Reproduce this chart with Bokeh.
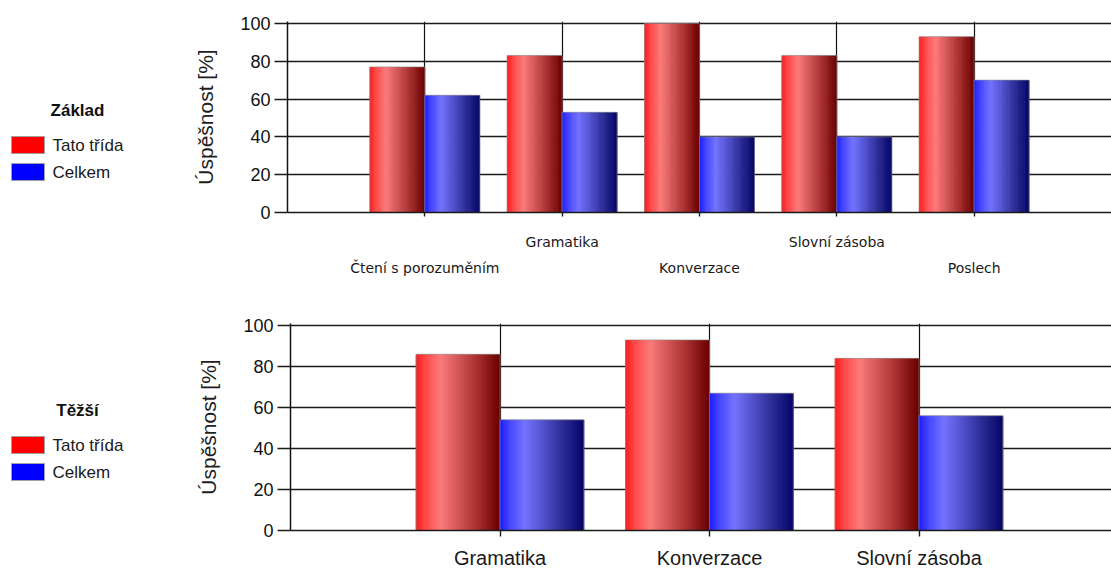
import numpy as np
from bokeh.plotting import figure
from bokeh.models import Range1d, FixedTicker, LinearAxis, ColumnDataSource
from bokeh.layouts import column, row
from bokeh.core.properties import value
from bokeh.embed import file_html
from bokeh.resources import INLINE

# ---------------- data ----------------
series_names = ["Tato třída", "Celkem"]

zaklad_title = "Základ"
zaklad_cats = ["Čtení s porozuměním", "Gramatika", "Konverzace", "Slovní zásoba", "Poslech"]
zaklad_trida = [77, 83, 100, 83, 93]
zaklad_celkem = [62, 53, 40, 40, 70]

tezsi_title = "Těžší"
tezsi_cats = ["Gramatika", "Konverzace", "Slovní zásoba"]
tezsi_trida = [86, 93, 84]
tezsi_celkem = [54, 67, 56]

y_ticks = [0, 20, 40, 60, 80, 100]
y_label = "Úspěšnost [%]"

# ---------------- styles ----------------
REG = "Liberation Sans"
SMALL = "DejaVu Sans"

RED_STOPS = [(0.0, (255, 25, 25)), (0.12, (255, 75, 75)), (0.3, (252, 122, 122)),
             (0.5, (212, 88, 88)), (0.75, (165, 45, 45)), (1.0, (105, 0, 0))]
BLUE_STOPS = [(0.0, (25, 25, 255)), (0.12, (70, 70, 255)), (0.3, (115, 115, 255)),
              (0.5, (85, 85, 210)), (0.75, (45, 45, 150)), (1.0, (5, 5, 105))]


def grad(stops, n):
    cols = []
    for k in range(n):
        t = (k + 0.5) / n
        c = stops[-1][1]
        for (t0, c0), (t1, c1) in zip(stops[:-1], stops[1:]):
            if t0 <= t <= t1:
                f = (t - t0) / (t1 - t0)
                c = tuple(int(round(a + (b - a) * f)) for a, b in zip(c0, c1))
                break
        cols.append("#%02x%02x%02x" % c)
    return cols


def chart(cats, v1, v2, width, height, left, top, bottom, xmax, staggered,
          cat_font, cat_size, cat_standoff, cat_tick, second_standoff=10,
          label_standoff=20):
    p = figure(width=width, height=height, x_range=Range1d(0, xmax), y_range=Range1d(0, 101),
               output_backend="svg", toolbar_location=None,
               min_border_left=left, min_border_top=top, min_border_bottom=bottom,
               min_border_right=0)
    p.outline_line_color = None
    pos = list(range(1, len(cats) + 1))

    # grid
    p.xgrid.ticker = FixedTicker(ticks=pos)
    p.xgrid.grid_line_color = "#111111"
    p.xgrid.grid_line_width = 1.2
    p.ygrid.ticker = FixedTicker(ticks=y_ticks)
    p.ygrid.grid_line_color = "#1a1a1a"
    p.ygrid.grid_line_width = 1.6

    # bars with horizontal gradient
    BW = 0.4
    N = 48
    for vals, stops, off in ((v1, RED_STOPS, -BW / 2), (v2, BLUE_STOPS, BW / 2)):
        cols = grad(stops, N)
        xs, tops, cs = [], [], []
        for c, v in zip(pos, vals):
            for k in range(N):
                xs.append(c + off - BW / 2 + (k + 0.5) * BW / N)
                tops.append(v)
                cs.append(cols[k])
        src = ColumnDataSource(dict(x=xs, top=tops, color=cs))
        p.vbar(x="x", top="top", bottom=0, width=BW / N * 1.6, fill_color="color",
               line_color=None, source=src)
        p.vbar(x=[c + off for c in pos], top=vals, bottom=0, width=BW, fill_color=None,
               line_color="#8a8a8a", line_width=1, line_alpha=0.6)

    # y axis
    ya = p.yaxis[0]
    ya.ticker = FixedTicker(ticks=y_ticks)
    ya.axis_label = y_label
    ya.axis_label_text_font = REG
    ya.axis_label_text_font_size = "21px"
    ya.axis_label_text_font_style = "normal"
    ya.axis_label_text_color = "#1e1e1e"
    ya.axis_label_standoff = label_standoff
    ya.major_label_text_font = REG
    ya.major_label_text_font_size = "18px"
    ya.major_label_text_color = "#111111"
    ya.major_label_standoff = 4
    ya.major_tick_out = 13
    ya.major_tick_in = 0
    ya.minor_tick_out = 0
    ya.minor_tick_in = 0
    ya.major_tick_line_color = "#1a1a1a"
    ya.major_tick_line_width = 1.6
    ya.axis_line_color = "#111111"
    ya.axis_line_width = 1.5

    # x axis
    xa = p.xaxis[0]
    xa.ticker = FixedTicker(ticks=pos)
    if staggered:
        xa.major_label_overrides = {i: (cats[i - 1] if i % 2 == 0 else "") for i in pos}
    else:
        xa.major_label_overrides = {i: cats[i - 1] for i in pos}
    xa.major_label_text_font = cat_font
    xa.major_label_text_font_size = cat_size
    xa.major_label_text_color = "#1a1a1a"
    xa.major_label_standoff = cat_standoff
    xa.major_tick_out = cat_tick
    xa.major_tick_in = 0
    xa.minor_tick_out = 0
    xa.minor_tick_in = 0
    xa.major_tick_line_color = "#1a1a1a"
    xa.major_tick_line_width = 1.4
    xa.axis_line_color = "#1a1a1a"
    xa.axis_line_width = 1.6

    if staggered:
        odd = [i for i in pos if i % 2 == 1]
        ax2 = LinearAxis(ticker=FixedTicker(ticks=odd),
                         major_label_overrides={i: cats[i - 1] for i in odd},
                         axis_line_color=None, major_tick_line_color=None,
                         minor_tick_line_color=None, major_tick_out=0, major_tick_in=0,
                         minor_tick_out=0, minor_tick_in=0,
                         major_label_standoff=second_standoff,
                         major_label_text_font=cat_font, major_label_text_font_size=cat_size,
                         major_label_text_color="#1a1a1a")
        p.add_layout(ax2, "below")
    return p


def legend_fig(title, height, frame_top, frame_bottom, title_y, sq_tops, text_ys):
    # the frame of this figure is aligned with the neighbouring chart's frame,
    # so its y range is expressed in page pixels of that frame
    lf = figure(width=190, height=height, x_range=Range1d(0, 190),
                y_range=Range1d(frame_bottom, frame_top),
                output_backend="svg", toolbar_location=None, min_border=0,
                x_axis_location=None, y_axis_location=None)
    lf.outline_line_color = None
    lf.grid.visible = False
    lf.quad(left=[11, 11], right=[44, 44], top=sq_tops, bottom=[t + 17 for t in sq_tops],
            fill_color=["#ff0000", "#0000ff"], line_color="#a0a0a0", line_width=1)
    lf.text(x=[77], y=[title_y], text=[title], text_font=value(REG), text_font_style="bold",
            text_font_size=value("17px"), text_align="center", text_baseline="middle",
            text_color="#111111")
    lf.text(x=[52, 52], y=text_ys, text=series_names, text_font=value(REG),
            text_font_size=value("17px"), text_align="left", text_baseline="middle",
            text_color="#1a1a1a")
    return lf


p1 = chart(zaklad_cats, zaklad_trida, zaklad_celkem, width=921, height=298, left=97, top=21,
           bottom=86, xmax=6.0, staggered=True, cat_font=SMALL, cat_size="14px",
           cat_standoff=17, cat_tick=4, second_standoff=7)
p2 = chart(tezsi_cats, tezsi_trida, tezsi_celkem, width=921, height=274, left=100, top=25,
           bottom=42, xmax=821 / 209.5, staggered=False, cat_font=REG, cat_size="20px",
           cat_standoff=10, cat_tick=6)

l1 = legend_fig(zaklad_title, 298, 21, 212, 110, [136, 163], [145, 172])
l2 = legend_fig(tezsi_title, 274, 323, 530, 410, [436, 463], [445, 472])

layout = column(row(l1, p1), row(l2, p2))

open("out.html", "w").write(file_html(layout, INLINE))
